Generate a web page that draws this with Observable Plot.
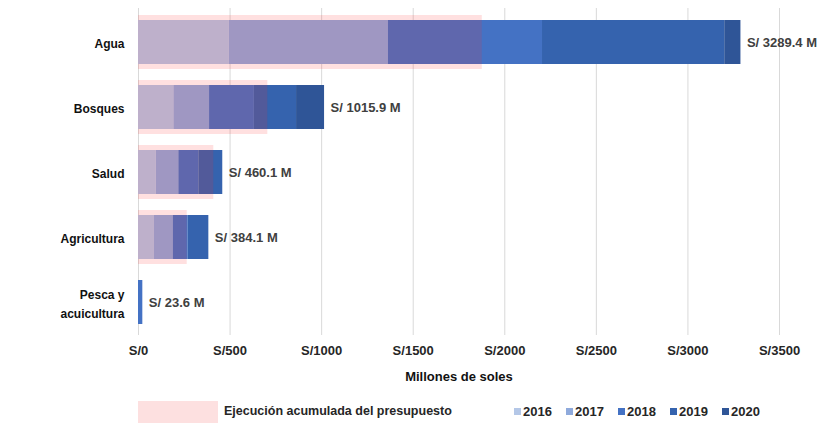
<!DOCTYPE html>
<html>
<head>
<meta charset="utf-8">
<script src="https://cdn.jsdelivr.net/npm/d3@7"></script>
<script src="https://cdn.jsdelivr.net/npm/@observablehq/plot@0.6"></script>
<style>
  html, body { margin: 0; padding: 0; background: #fff; }
  body { width: 833px; height: 427px; overflow: hidden; font-family: "Liberation Sans", Arial, sans-serif; }
  #legend { position: relative; height: 31px; font-weight: bold; font-size: 13px; color: #262626; }
  #legend .pink { position: absolute; left: 138px; top: 5px; width: 80px; height: 22px; background: #fde0e0; }
  #legend .pinklabel { position: absolute; left: 224px; top: 8px; font-size: 12.5px; }
  #legend .years { position: absolute; left: 514px; top: 8px; display: flex; }
  #legend .item { width: 52px; display: flex; align-items: center; }
  #legend .sw { width: 7px; height: 7px; margin-right: 2px; }
</style>
</head>
<body>
<div id="chart"></div>
<div id="legend"></div>
<script>
const categories = ["Agua", "Bosques", "Salud", "Agricultura", "Pesca y\nacuicultura"];
const years = ["2016", "2017", "2018", "2019", "2020"];
const v2016 = [496, 193, 97, 87, 0];
const v2017 = [869, 195, 123, 102, 0];
const v2018 = [841, 245, 109, 82, 23.6];
const v2019 = [995, 230, 131.1, 113.1, 0];
const v2020 = [88.4, 152.9, 0, 0, 0];
const totals = [3289.4, 1015.9, 460.1, 384.1, 23.6];
const ejecucion = [1877, 706, 411, 266, 0];
const xTicks = [0, 500, 1000, 1500, 2000, 2500, 3000, 3500];
const yearColors = ["#b4c7e7", "#8faadc", "#4472c4", "#3563ae", "#2f5597"];
const pinkLabel = "Ejecución acumulada del presupuesto";
const xTitle = "Millones de soles";

const series = [v2016, v2017, v2018, v2019, v2020];
const tidy = [];
categories.forEach((c, i) => {
  years.forEach((y, j) => tidy.push({cat: c, year: y, value: series[j][i]}));
});
const rows = categories.map((c, i) => ({cat: c, total: totals[i], ejec: ejecucion[i]}));

const font = "'Liberation Sans', Arial, sans-serif";

const chart = Plot.plot({
  width: 833,
  height: 396,
  marginLeft: 138,
  marginRight: 54,
  marginTop: 8,
  marginBottom: 61,
  style: {fontFamily: font, fontSize: "13px", background: "#fff"},
  x: {domain: [0, 3500], ticks: xTicks},
  y: {domain: categories, paddingInner: 0.33, paddingOuter: 0.165, axis: null},
  color: {domain: years, range: yearColors},
  marks: [
    Plot.gridX(xTicks, {stroke: "#d9d9d9", strokeOpacity: 1, strokeWidth: 1}),
    Plot.axisX(xTicks, {tickSize: 0, tickPadding: 10, tickFormat: d => "S/" + d, fontWeight: "bold", fontSize: 13, fill: "#262626", label: null}),
    Plot.text([xTitle], {frameAnchor: "bottom", dy: 45, text: d => d, fontWeight: "bold", fontSize: 13, fill: "#111"}),
    Plot.text(categories, {y: d => d, frameAnchor: "left", textAnchor: "end", dx: -14, text: d => d, fontWeight: "bold", fontSize: 12, fill: "#111", lineHeight: 1.55}),
    Plot.barX(tidy, {y: "cat", x: "value", fill: "year"}),
    Plot.barX(rows, {y: "cat", x1: 0, x2: "ejec", fill: "#ff2828", fillOpacity: 0.144, insetTop: -5, insetBottom: -5}),
    Plot.text(rows, {y: "cat", x: "total", text: d => `S/ ${d.total.toFixed(1)} M`, textAnchor: "start", dx: 6, fontWeight: "bold", fontSize: 13, fill: "#404040"})
  ]
});
document.getElementById("chart").appendChild(chart);

const legend = document.getElementById("legend");
legend.innerHTML = `<div class="pink"></div><div class="pinklabel">${pinkLabel}</div>` +
  `<div class="years">` + years.map((y, i) =>
    `<div class="item"><span class="sw" style="background:${yearColors[i]}"></span><span>${y}</span></div>`).join("") + `</div>`;
</script>
</body>
</html>
